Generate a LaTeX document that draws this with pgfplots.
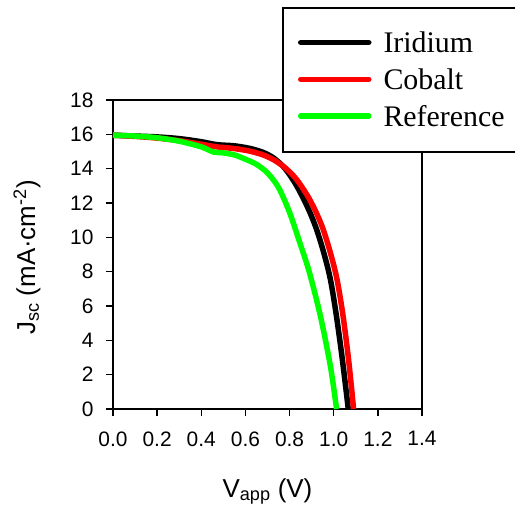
\documentclass[border=0pt]{standalone}
\usepackage{fontspec}
\setmainfont{Liberation Sans}
\newfontfamily\legfont{Liberation Serif}
\usepackage{pgfplots}
\pgfplotsset{compat=1.18}

\begin{document}
\begin{tikzpicture}
\begin{axis}[
    width=309bp, height=309bp, scale only axis,
    xmin=0, xmax=1.4, ymin=0, ymax=18,
    xtick={0,0.2,0.4,0.6,0.8,1.0,1.2,1.4},
    ytick={0,2,4,6,8,10,12,14,16,18},
    xticklabel style={yshift=-12bp, /pgf/number format/.cd, fixed, fixed zerofill, precision=1},
    yticklabel style={xshift=-9bp},
    /pgf/number format/assume math mode=true,
    tick label style={font=\fontsize{21}{24}\selectfont},
    tick pos=left, tick align=outside, major tick length=7bp,
    axis line style={line width=1.5bp},
    every tick/.style={black, line width=1.5bp},
    clip=false,
    xlabel={V\textsubscript{app} (V)},
    ylabel={J\textsubscript{sc} (mA·cm\textsuperscript{-2})},
    xlabel style={at={(axis description cs:0.5,-0.285)}, anchor=base, font=\fontsize{26}{30}\selectfont},
    ylabel style={at={(axis description cs:-0.252,0.49)}, anchor=base, font=\fontsize{26}{30}\selectfont},
    legend style={at={(axis description cs:0.5502,1.2977)}, anchor=north west,
      draw=black, line width=2bp, fill=white, outer sep=0pt,
      inner xsep=15bp, inner ysep=23.5bp, row sep=13bp, column sep=0bp,
      cells={anchor=base west},
      nodes={inner sep=0pt, text height=21bp, text depth=0bp,
             font=\legfont\fontsize{30}{36}\selectfont}},
    legend image code/.code={
      \draw[#1, line width=5.5bp, line cap=round] (0bp,10bp) -- (68bp,10bp);
      \path (80bp,0bp);},
  ]
  \addplot[black, line width=5.5bp, smooth] coordinates {
    (0,15.95) (0.1,15.9) (0.2,15.85) (0.3,15.75) (0.4,15.57) (0.47,15.4)
    (0.55,15.33) (0.62,15.18) (0.68,14.95) (0.73,14.6) (0.78,14.0)
    (0.83,13.05) (0.88,11.8) (0.92,10.55) (0.955,9.1) (0.985,7.55)
    (1.012,5.45) (1.04,2.8) (1.066,0)
  };
  \addlegendentry{Iridium}
  \addplot[red, line width=5.5bp, smooth] coordinates {
    (0,15.95) (0.1,15.88) (0.2,15.78) (0.3,15.63) (0.4,15.42) (0.47,15.27)
    (0.55,15.17) (0.62,15.02) (0.68,14.8) (0.73,14.5) (0.78,14.05)
    (0.83,13.4) (0.88,12.45) (0.915,11.6) (0.95,10.55) (0.985,9.1)
    (1.015,7.55) (1.042,5.45) (1.068,2.8) (1.09,0)
  };
  \addlegendentry{Cobalt}
  \addplot[green, line width=5.5bp, smooth] coordinates {
    (0,15.95) (0.1,15.9) (0.2,15.8) (0.3,15.6) (0.4,15.27) (0.455,14.97)
    (0.5,14.92) (0.55,14.8) (0.6,14.55) (0.65,14.25) (0.7,13.75)
    (0.75,12.9) (0.8,11.45) (0.85,9.55) (0.89,7.95) (0.94,5.4)
    (0.985,2.5) (1.013,0)
  };
  \addlegendentry{Reference}
\end{axis}
\pgfresetboundingbox
\path[use as bounding box] (-113bp,-99bp) rectangle (402bp,409bp);
\end{tikzpicture}
\end{document}
